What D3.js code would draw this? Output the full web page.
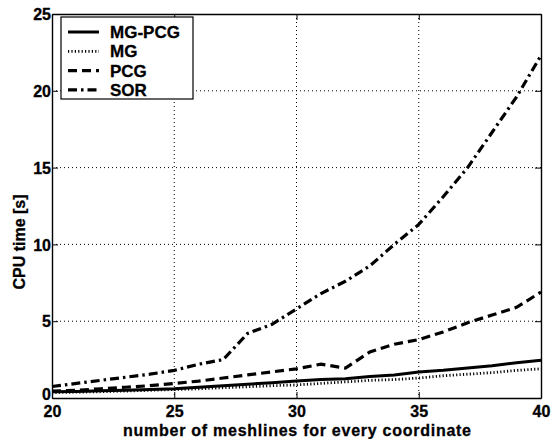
<!DOCTYPE html>
<html>
<head>
<meta charset="utf-8">
<script src="https://cdn.jsdelivr.net/npm/d3@7"></script>
<style>
  body { margin: 0; background: #fff; }
  svg { font-family: "Liberation Sans", Arial, sans-serif; font-weight: bold; }
</style>
</head>
<body>
<div id="chart"></div>
<script>
// Data
const meshlines = [20, 21, 22, 23, 24, 25, 26, 27, 28, 29, 30, 31, 32, 33, 34, 35, 36, 37, 38, 39, 40];
const mgpcgTime = [0.4, 0.43, 0.47, 0.5, 0.55, 0.6, 0.7, 0.8, 0.9, 1.0, 1.1, 1.2, 1.25, 1.4, 1.5, 1.7, 1.8, 1.95, 2.1, 2.3, 2.45];
const mgTime    = [0.35, 0.38, 0.41, 0.45, 0.5, 0.55, 0.6, 0.67, 0.73, 0.8, 0.85, 0.95, 1.05, 1.15, 1.2, 1.3, 1.45, 1.55, 1.65, 1.8, 1.9];
const pcgTime   = [0.45, 0.5, 0.6, 0.7, 0.8, 0.95, 1.1, 1.3, 1.5, 1.7, 1.9, 2.2, 1.95, 3.0, 3.5, 3.8, 4.3, 4.9, 5.4, 5.9, 6.9];
const sorTime   = [0.75, 0.95, 1.15, 1.35, 1.55, 1.8, 2.2, 2.5, 4.2, 4.8, 5.8, 6.8, 7.6, 8.6, 10.0, 11.3, 13.1, 15.0, 17.3, 19.6, 22.3];
const seriesNames = ["MG-PCG", "MG", "PCG", "SOR"];
const xTicks = [20, 25, 30, 35, 40];
const yTicks = [0, 5, 10, 15, 20, 25];

const W = 551, H = 439;
const margin = { top: 14, right: 10, bottom: 41, left: 52 };
const innerW = W - margin.left - margin.right;
const innerH = H - margin.top - margin.bottom;

const svg = d3.select("#chart").append("svg")
  .attr("width", W)
  .attr("height", H);
const g = svg.append("g")
  .attr("transform", `translate(${margin.left},${margin.top})`);

const x = d3.scaleLinear().domain([20, 40]).range([0, innerW]);
const y = d3.scaleLinear().domain([0, 25]).range([innerH, 0]);

// Grid (dotted)
g.append("g").selectAll("line")
  .data(xTicks.slice(1, -1))
  .join("line")
  .attr("x1", d => x(d)).attr("x2", d => x(d))
  .attr("y1", 0).attr("y2", innerH)
  .attr("stroke", "#000").attr("stroke-width", 1)
  .attr("stroke-dasharray", "1,3");
g.append("g").selectAll("line")
  .data(yTicks.slice(1, -1))
  .join("line")
  .attr("y1", d => y(d)).attr("y2", d => y(d))
  .attr("x1", 0).attr("x2", innerW)
  .attr("stroke", "#000").attr("stroke-width", 1)
  .attr("stroke-dasharray", "1,3");

// Axes: ticks pointing inward, on all four sides
const tickLen = 6;
const xAxis = g.append("g")
  .attr("transform", `translate(0,${innerH})`)
  .call(d3.axisBottom(x).tickValues(xTicks).tickSizeInner(-tickLen).tickSizeOuter(0).tickPadding(8));
const yAxis = g.append("g")
  .call(d3.axisLeft(y).tickValues(yTicks).tickSizeInner(-tickLen).tickSizeOuter(0).tickPadding(1));
g.append("g")
  .call(d3.axisTop(x).tickValues(xTicks).tickSizeInner(-tickLen).tickSizeOuter(0).tickFormat(""));
g.append("g")
  .attr("transform", `translate(${innerW},0)`)
  .call(d3.axisRight(y).tickValues(yTicks).tickSizeInner(-tickLen).tickSizeOuter(0).tickFormat(""));

g.selectAll(".domain").attr("stroke", "#000").attr("stroke-width", 1.4);
g.selectAll(".tick line").attr("stroke", "#000");
[xAxis, yAxis].forEach(a => a.selectAll("text")
  .attr("font-size", 16)
  .attr("font-weight", "bold")
  .attr("font-family", "Liberation Sans, Arial, sans-serif")
  .attr("fill", "#000")
  .attr("stroke", "#000")
  .attr("stroke-width", 0.3));
yAxis.selectAll(".tick text").attr("dy", d => d === 0 ? "0.12em" : "0.36em");

// Lines
const styles = [
  { data: mgpcgTime, dash: null, width: 3 },
  { data: mgTime, dash: "1.2,2.2", width: 2.8 },
  { data: pcgTime, dash: "9,5", width: 3.2 },
  { data: sorTime, dash: "9,4,2.5,4", width: 3.2 }
];
const line = d3.line()
  .x((d, i) => x(meshlines[i]))
  .y(d => y(d));

styles.forEach(s => {
  g.append("path")
    .datum(s.data)
    .attr("fill", "none")
    .attr("stroke", "#000")
    .attr("stroke-width", s.width)
    .attr("stroke-dasharray", s.dash)
    .attr("d", line);
});

// Legend
const legend = g.append("g").attr("transform", "translate(9,3)");
legend.append("rect")
  .attr("width", 132).attr("height", 82)
  .attr("fill", "#fff").attr("stroke", "#000").attr("stroke-width", 1.2);
seriesNames.forEach((name, i) => {
  const ly = 15 + i * 19.3;
  legend.append("line")
    .attr("x1", 7).attr("x2", 38)
    .attr("y1", ly).attr("y2", ly)
    .attr("stroke", "#000")
    .attr("stroke-width", styles[i].width)
    .attr("stroke-dasharray", styles[i].dash);
  legend.append("text")
    .attr("x", 49).attr("y", ly)
    .attr("dy", "0.35em")
    .attr("font-size", 17)
    .attr("stroke", "#000")
    .attr("stroke-width", 0.3)
    .text(name);
});

// Axis labels
svg.append("text")
  .attr("x", 297)
  .attr("y", 436)
  .attr("text-anchor", "middle")
  .attr("font-size", 16)
  .attr("textLength", 348)
  .attr("lengthAdjust", "spacing")
  .attr("stroke", "#000")
  .attr("stroke-width", 0.3)
  .text("number of meshlines for every coordinate");
svg.append("text")
  .attr("transform", `translate(25,${242}) rotate(-90)`)
  .attr("text-anchor", "middle")
  .attr("font-size", 16)
  .attr("stroke", "#000")
  .attr("stroke-width", 0.3)
  .text("CPU time [s]");
</script>
</body>
</html>
